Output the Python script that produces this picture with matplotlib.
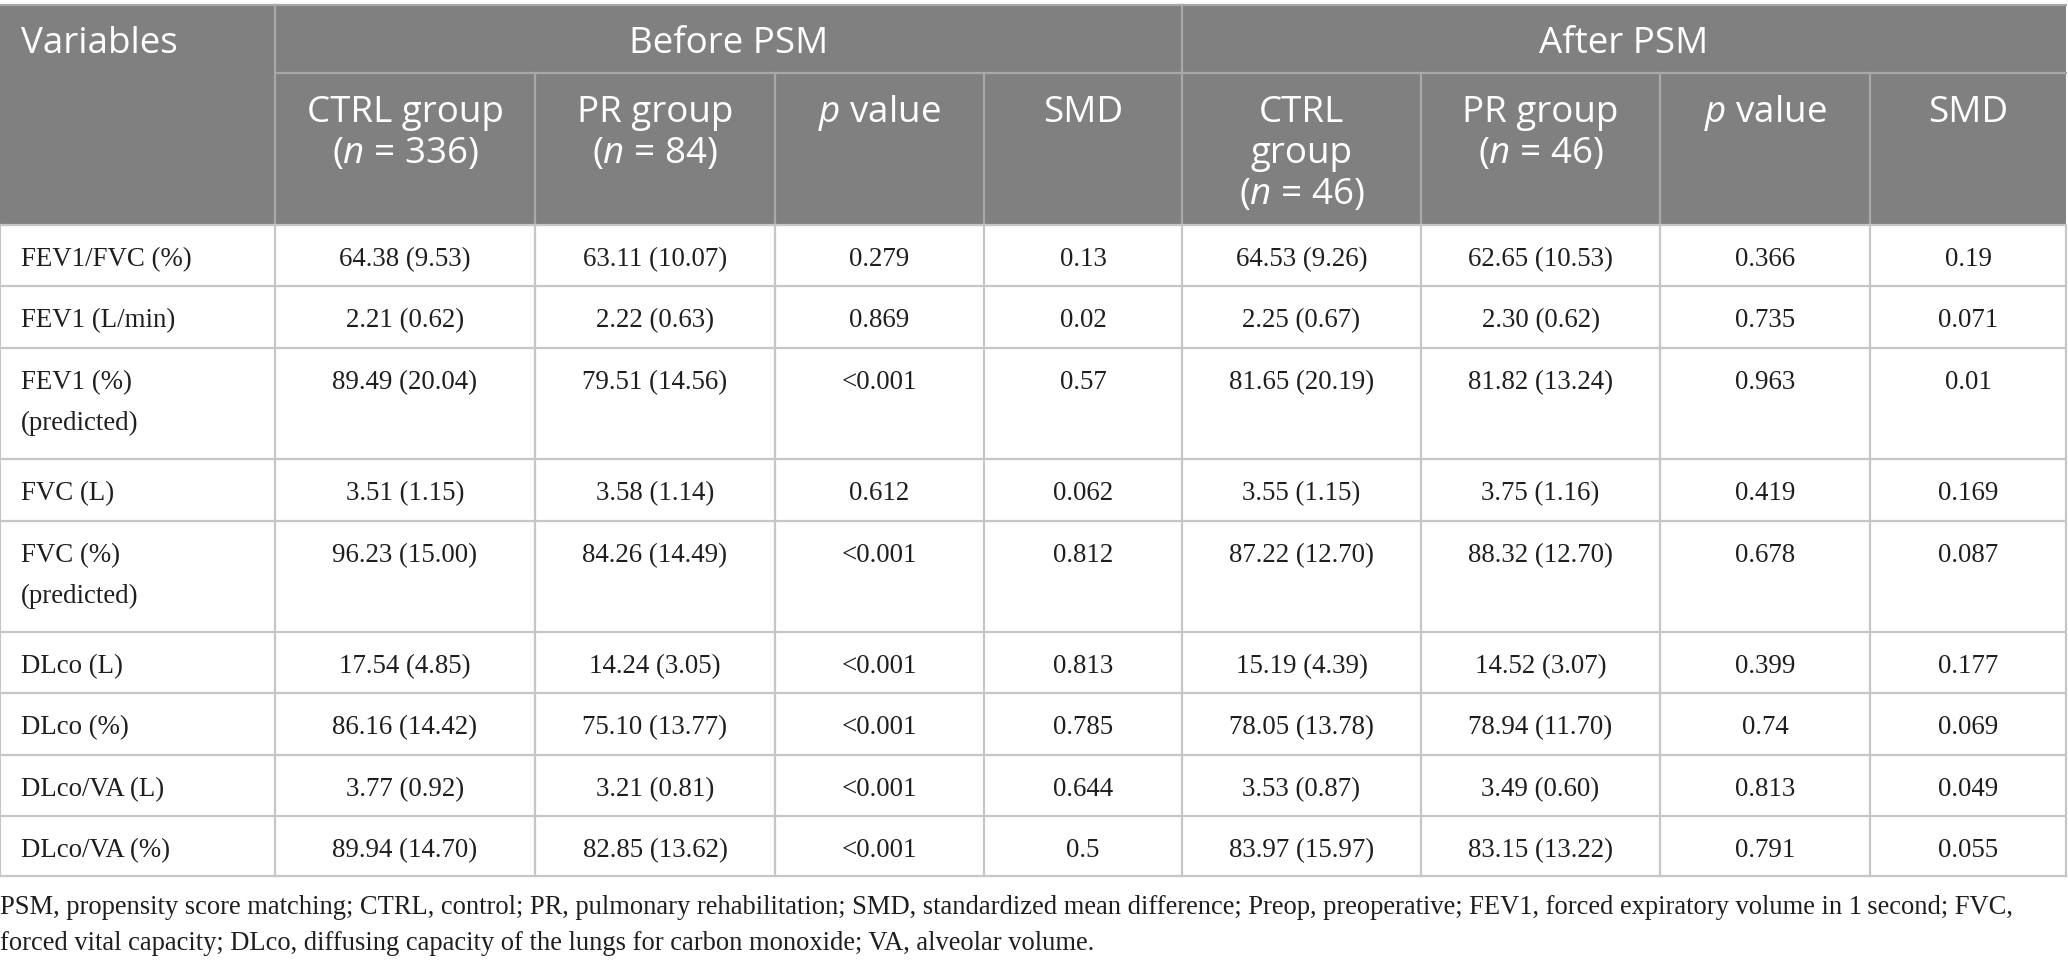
import matplotlib
matplotlib.use("Agg")
import matplotlib.pyplot as plt
from matplotlib.patches import Rectangle

# ---------------- data ----------------
variables = [["FEV1/FVC (%)"], ["FEV1 (L/min)"], ["FEV1 (%)", "(predicted)"], ["FVC (L)"],
             ["FVC (%)", "(predicted)"], ["DLco (L)"], ["DLco (%)"], ["DLco/VA (L)"], ["DLco/VA (%)"]]
before_ctrl = ["64.38 (9.53)", "2.21 (0.62)", "89.49 (20.04)", "3.51 (1.15)", "96.23 (15.00)",
               "17.54 (4.85)", "86.16 (14.42)", "3.77 (0.92)", "89.94 (14.70)"]
before_pr = ["63.11 (10.07)", "2.22 (0.63)", "79.51 (14.56)", "3.58 (1.14)", "84.26 (14.49)",
             "14.24 (3.05)", "75.10 (13.77)", "3.21 (0.81)", "82.85 (13.62)"]
before_p = ["0.279", "0.869", "<0.001", "0.612", "<0.001", "<0.001", "<0.001", "<0.001", "<0.001"]
before_smd = ["0.13", "0.02", "0.57", "0.062", "0.812", "0.813", "0.785", "0.644", "0.5"]
after_ctrl = ["64.53 (9.26)", "2.25 (0.67)", "81.65 (20.19)", "3.55 (1.15)", "87.22 (12.70)",
              "15.19 (4.39)", "78.05 (13.78)", "3.53 (0.87)", "83.97 (15.97)"]
after_pr = ["62.65 (10.53)", "2.30 (0.62)", "81.82 (13.24)", "3.75 (1.16)", "88.32 (12.70)",
            "14.52 (3.07)", "78.94 (11.70)", "3.49 (0.60)", "83.15 (13.22)"]
after_p = ["0.366", "0.735", "0.963", "0.419", "0.678", "0.399", "0.74", "0.813", "0.791"]
after_smd = ["0.19", "0.071", "0.01", "0.169", "0.087", "0.177", "0.069", "0.049", "0.055"]

group_headers = ["Before PSM", "After PSM"]
sub_headers = [["CTRL group", "($\\mathit{n}$ = 336)"], ["PR group", "($\\mathit{n}$ = 84)"],
               ["$\\mathit{p}$ value"], ["SMD"],
               ["CTRL", "group", "($\\mathit{n}$ = 46)"], ["PR group", "($\\mathit{n}$ = 46)"],
               ["$\\mathit{p}$ value"], ["SMD"]]
footnote = ["PSM, propensity score matching; CTRL, control; PR, pulmonary rehabilitation; SMD, standardized mean difference; "
            "Preop, preoperative; FEV1, forced expiratory volume in 1\u2009second; FVC,",
            "forced vital capacity; DLco, diffusing capacity of the lungs for carbon monoxide; VA, alveolar volume."]

# ---------------- layout ----------------
W, H = 2068, 967
col_x = [0, 275, 535, 775, 984, 1182, 1421, 1660, 1870, 2066]
head_top, head_mid, head_bot = 5, 73, 225
row_y = [225, 286, 348, 459, 521, 632, 693, 755, 816, 876]

HEAD_BG = "#808080"
HEAD_LINE = "#a8a8a8"
BODY_LINE = "#c6c6c6"
TXT = "#1e1e1e"

plt.rcParams["mathtext.fontset"] = "custom"
plt.rcParams["mathtext.rm"] = "Open Sans"
plt.rcParams["mathtext.it"] = "Open Sans:italic"

HFONT = "Open Sans"
BFONT = "Liberation Serif"
HSIZE = 26.5
BSIZE = 19.4
FSIZE = 19.1

fig = plt.figure(figsize=(W / 100, H / 100), dpi=100)
ax = fig.add_axes([0, 0, 1, 1])
ax.set_xlim(0, W)
ax.set_ylim(H, 0)
ax.axis("off")

# header background
ax.add_patch(Rectangle((col_x[0], head_top), col_x[-1] - col_x[0], head_bot - head_top,
                       facecolor=HEAD_BG, edgecolor="none", zorder=1))
# header lines
ax.plot([col_x[0], col_x[-1]], [head_top, head_top], color=HEAD_LINE, lw=1.6, zorder=2)
ax.plot([col_x[1], col_x[-1]], [head_mid, head_mid], color=HEAD_LINE, lw=1.6, zorder=2)
for i, x in enumerate(col_x[1:-1], start=1):
    y0 = head_top if i in (1, 5) else head_mid
    ax.plot([x, x], [y0, head_bot], color=HEAD_LINE, lw=1.6, zorder=2)

# body lines
for y in row_y:
    ax.plot([col_x[0], col_x[-1]], [y, y], color=BODY_LINE, lw=1.6, zorder=2)
for x in col_x:
    ax.plot([x, x], [row_y[0], row_y[-1]], color=BODY_LINE, lw=1.6, zorder=2)

# header text
ax.text(21, 53, "Variables", fontsize=HSIZE, family=HFONT, color="white", ha="left", va="baseline", zorder=3)
for g, (a, b) in zip(group_headers, [(1, 5), (5, 9)]):
    ax.text((col_x[a] + col_x[b]) / 2, 53, g, fontsize=HSIZE, family=HFONT, color="white",
            ha="center", va="baseline", zorder=3)
for j, lines in enumerate(sub_headers):
    cx = (col_x[j + 1] + col_x[j + 2]) / 2
    for k, ln in enumerate(lines):
        ax.text(cx, 122 + 41 * k, ln, fontsize=HSIZE, family=HFONT, color="white",
                ha="center", va="baseline", zorder=3)

# body text
cols = [before_ctrl, before_pr, before_p, before_smd, after_ctrl, after_pr, after_p, after_smd]
for i, var in enumerate(variables):
    top = row_y[i]
    for k, ln in enumerate(var):
        ax.text(21, top + 41 + 41 * k, ln, fontsize=BSIZE, family=BFONT, color=TXT,
                ha="left", va="baseline", zorder=3)
    for j, col in enumerate(cols):
        cx = (col_x[j + 1] + col_x[j + 2]) / 2
        ax.text(cx, top + 41, col[i], fontsize=BSIZE, family=BFONT, color=TXT,
                ha="center", va="baseline", zorder=3)

# footnote
for k, ln in enumerate(footnote):
    ax.text(0, 914 + 36 * k, ln, fontsize=FSIZE, family=BFONT, color=TXT,
            ha="left", va="baseline", zorder=3)

fig.savefig("out.png", dpi=100, facecolor="white")
